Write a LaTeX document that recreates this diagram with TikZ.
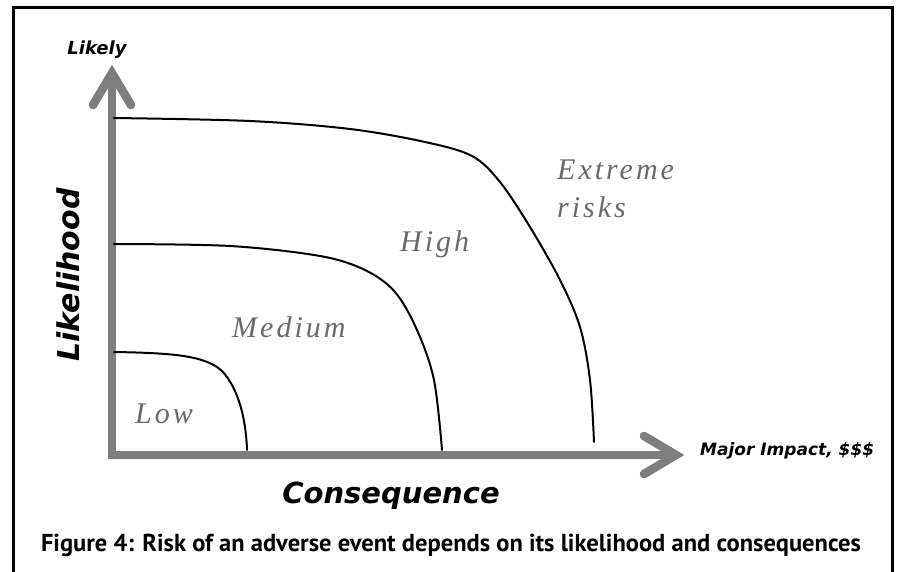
\documentclass[tikz,border=0pt]{standalone}
\usepackage{fontspec}
\newfontfamily\axisfont{DejaVu Sans}
\newfontfamily\regionfont[LetterSpace=10]{Liberation Serif}
\newfontfamily\capfont{PT Sans}
\definecolor{axisgray}{HTML}{7E7E7E}
\definecolor{regiongray}{HTML}{6A6A6A}
\tikzset{
  axisline/.style={draw=axisgray, line width=8.5pt},
  chevron/.style={draw=axisgray, line width=8.5pt, line cap=round, line join=miter},
  boundary/.style={draw=black, line width=2pt, line cap=round},
  axislabel/.style={inner sep=0pt, font=\axisfont\bfseries\itshape},
  regionlabel/.style={inner sep=0pt, anchor=base west, text=regiongray, font=\fontsize{30}{36}\regionfont\itshape},
}
\begin{document}
\begin{tikzpicture}[x=1pt,y=-1pt]
\useasboundingbox (0,0) rectangle (898,572);
% frame
\draw[line width=3pt] (13,580) -- (13,8) -- (892,8) -- (892,580);
% axes
\coordinate (O) at (112,455);
\coordinate (Ytip) at (112,73);
\coordinate (Xtip) at (676,455);
\draw[axisline] ([yshift=-4pt]O) -- (Ytip);
\draw[axisline] ([xshift=-4pt]O) -- (Xtip);
\draw[chevron] ([xshift=-19pt,yshift=-32pt]Ytip) -- (Ytip) -- ([xshift=19pt,yshift=-32pt]Ytip);
\draw[chevron] ([xshift=-32pt,yshift=-19pt]Xtip) -- (Xtip) -- ([xshift=-32pt,yshift=19pt]Xtip);
% boundaries
\draw[boundary] (114,352) .. controls (170,353) and (205,355) .. (222,371)
  .. controls (238,388) and (246,418) .. (247,450);
\draw[boundary] plot[smooth, tension=0.55] coordinates {(114,244) (230,246) (320,256) (365,270) (395,292) (417,330) (434,380) (442,450)};
\draw[boundary] plot[smooth, tension=0.55] coordinates {(114,118) (250,121) (350,129) (425,142) (472,156) (500,182) (530,227) (560,280) (580,327) (590,380) (594,442)};
% axis labels
\node[axislabel, font=\fontsize{18}{20}\axisfont\bfseries\itshape, anchor=base] (likely) at (97,55) {Likely};
\node[axislabel, font=\fontsize{30}{34}\axisfont\bfseries\itshape, rotate=90, anchor=base] (likelihood) at (79,275) {Likelihood};
\node[axislabel, font=\fontsize{29}{34}\axisfont\bfseries\itshape, anchor=base] (consequence) at (391,503) {Consequence};
\node[axislabel, font=\fontsize{17}{20}\axisfont\bfseries\itshape, anchor=base west] (major) at (700,455) {Major Impact, \$\$\$};
% region labels
\node[regionlabel] (extreme) at (557,180) {Extreme};
\node[regionlabel] (risks) at (557,218) {risks};
\node[regionlabel] (high) at (400,252) {High};
\node[regionlabel] (medium) at (232,338) {Medium};
\node[regionlabel] (low) at (135,423) {Low};
% caption
\node[inner sep=0pt, anchor=base, font=\fontsize{24.5}{28}\capfont\bfseries] (caption) at (451,551) {Figure 4: Risk of an adverse event depends on its likelihood and consequences};
\end{tikzpicture}
\end{document}
